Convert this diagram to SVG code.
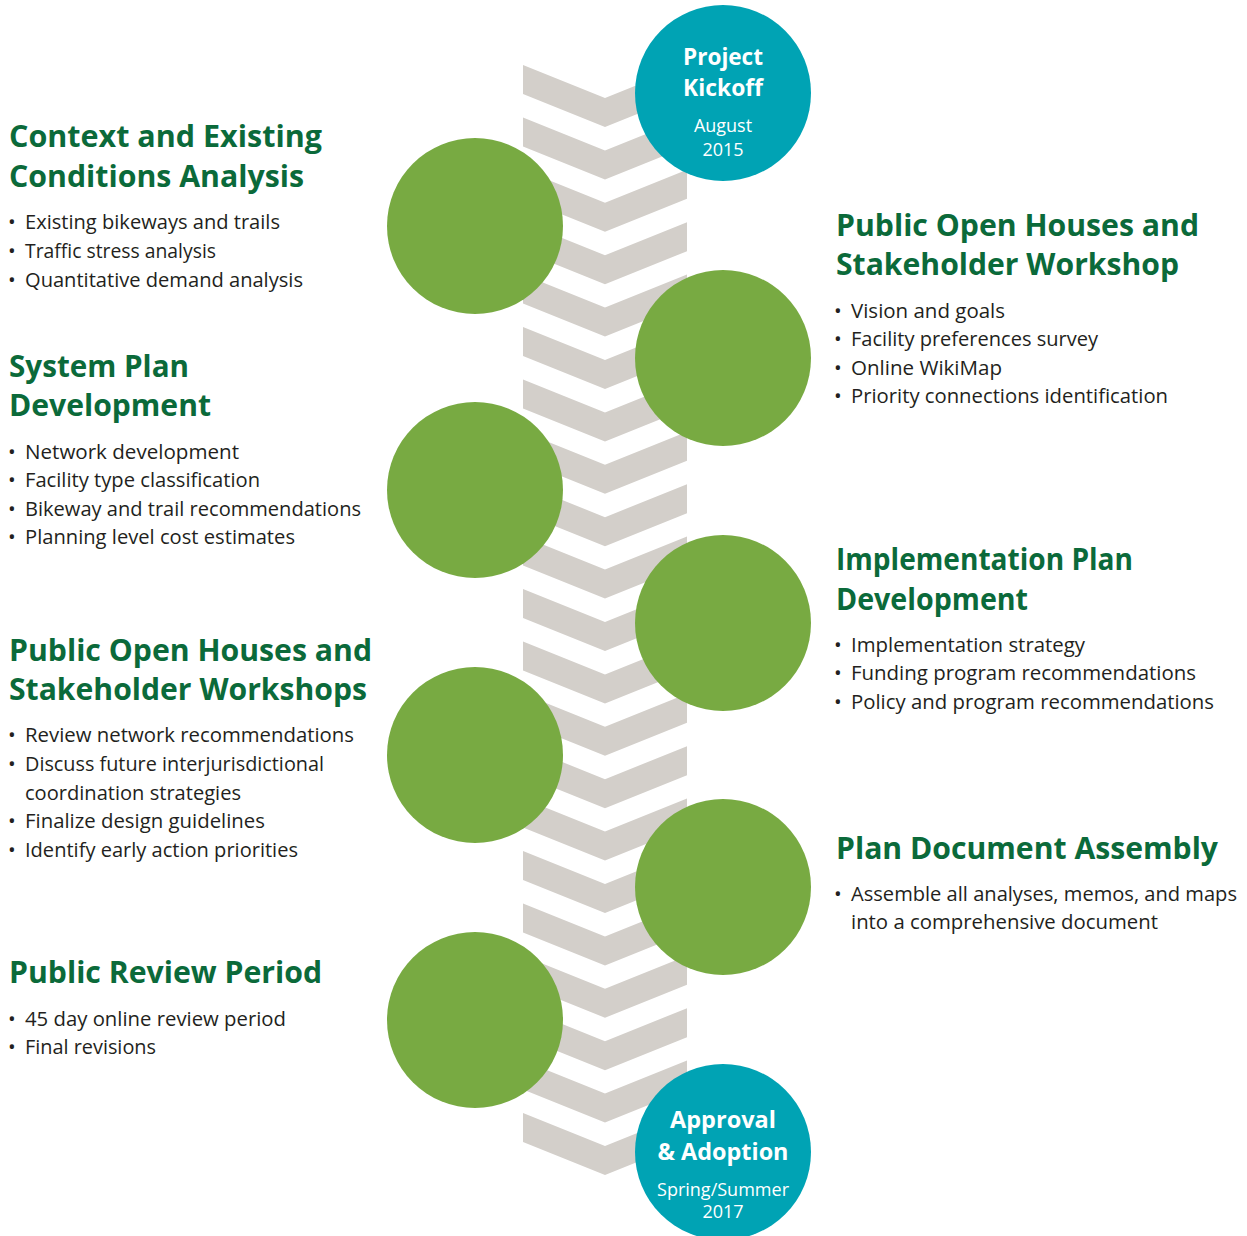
<svg xmlns="http://www.w3.org/2000/svg" xmlns:xlink="http://www.w3.org/1999/xlink" width="1247" height="1236" viewBox="0 0 1247 1236">
  <style>
    .step { fill: #78aa42; }
    .milestone { fill: #00a3b4; }
    .chev { fill: #d3cfca; }
    .head { font-family: "Open Sans", "Liberation Sans", sans-serif; font-weight: 700; font-size: 31px; fill: #0b6a3a; }
    .item { font-family: "Open Sans", "Liberation Sans", sans-serif; font-weight: 400; font-size: 20.5px; fill: #231f20; }
    .ms-title { font-family: "Open Sans", "Liberation Sans", sans-serif; font-weight: 700; font-size: 24px; fill: #ffffff; text-anchor: middle; }
    .ms-date { font-family: "Open Sans", "Liberation Sans", sans-serif; font-weight: 400; font-size: 18px; fill: #ffffff; text-anchor: middle; }
  </style>
  <defs>
    <!-- one chevron band of the spine, top-left corner at y=0 -->
    <path id="chevron" d="M523,0 L605,33 L687,0 L687,29 L605,62 L523,29 Z"/>
  </defs>
  <rect width="1247" height="1236" fill="#ffffff"/>

  <!-- central chevron spine linking the stages -->
  <g id="connectors" class="chev">
    <use xlink:href="#chevron" y="65"/>
    <use xlink:href="#chevron" y="117.4"/>
    <use xlink:href="#chevron" y="169.8"/>
    <use xlink:href="#chevron" y="222.2"/>
    <use xlink:href="#chevron" y="274.6"/>
    <use xlink:href="#chevron" y="327"/>
    <use xlink:href="#chevron" y="379.4"/>
    <use xlink:href="#chevron" y="431.8"/>
    <use xlink:href="#chevron" y="484.2"/>
    <use xlink:href="#chevron" y="536.6"/>
    <use xlink:href="#chevron" y="589"/>
    <use xlink:href="#chevron" y="641.4"/>
    <use xlink:href="#chevron" y="693.8"/>
    <use xlink:href="#chevron" y="746.2"/>
    <use xlink:href="#chevron" y="798.6"/>
    <use xlink:href="#chevron" y="851"/>
    <use xlink:href="#chevron" y="903.4"/>
    <use xlink:href="#chevron" y="955.8"/>
    <use xlink:href="#chevron" y="1008.2"/>
    <use xlink:href="#chevron" y="1060.6"/>
    <use xlink:href="#chevron" y="1113"/>
  </g>

  <!-- start milestone -->
  <g id="kickoff">
    <circle class="milestone" cx="723" cy="93" r="88"/>
    <text class="ms-title" x="723" y="65" textLength="80" lengthAdjust="spacingAndGlyphs">Project</text>
    <text class="ms-title" x="723" y="96" textLength="80" lengthAdjust="spacingAndGlyphs">Kickoff</text>
    <text class="ms-date" x="723" y="132">August</text>
    <text class="ms-date" x="723" y="156">2015</text>
  </g>

  <!-- left-hand stages -->
  <g id="context-analysis">
    <circle class="step" cx="475" cy="226" r="88"/>
    <text class="head" x="9" y="147" textLength="313" lengthAdjust="spacingAndGlyphs">Context and Existing</text>
    <text class="head" x="9" y="187" textLength="295" lengthAdjust="spacingAndGlyphs">Conditions Analysis</text>
    <text class="item" x="8" y="229">•</text>
    <text class="item" x="25" y="229" textLength="255" lengthAdjust="spacingAndGlyphs">Existing bikeways and trails</text>
    <text class="item" x="8" y="258">•</text>
    <text class="item" x="25" y="258" textLength="191" lengthAdjust="spacingAndGlyphs">Traffic stress analysis</text>
    <text class="item" x="8" y="287">•</text>
    <text class="item" x="25" y="287" textLength="278" lengthAdjust="spacingAndGlyphs">Quantitative demand analysis</text>
  </g>

  <g id="system-plan">
    <circle class="step" cx="475" cy="490" r="88"/>
    <text class="head" x="9" y="377" textLength="180" lengthAdjust="spacingAndGlyphs">System Plan</text>
    <text class="head" x="9" y="416" textLength="202" lengthAdjust="spacingAndGlyphs">Development</text>
    <text class="item" x="8" y="459">•</text>
    <text class="item" x="25" y="459" textLength="214" lengthAdjust="spacingAndGlyphs">Network development</text>
    <text class="item" x="8" y="487">•</text>
    <text class="item" x="25" y="487" textLength="235" lengthAdjust="spacingAndGlyphs">Facility type classification</text>
    <text class="item" x="8" y="516">•</text>
    <text class="item" x="25" y="516" textLength="336" lengthAdjust="spacingAndGlyphs">Bikeway and trail recommendations</text>
    <text class="item" x="8" y="544">•</text>
    <text class="item" x="25" y="544" textLength="270" lengthAdjust="spacingAndGlyphs">Planning level cost estimates</text>
  </g>

  <g id="workshops-2">
    <circle class="step" cx="475" cy="755" r="88"/>
    <text class="head" x="9" y="661" textLength="363" lengthAdjust="spacingAndGlyphs">Public Open Houses and</text>
    <text class="head" x="9" y="700" textLength="358" lengthAdjust="spacingAndGlyphs">Stakeholder Workshops</text>
    <text class="item" x="8" y="742">•</text>
    <text class="item" x="25" y="742" textLength="329" lengthAdjust="spacingAndGlyphs">Review network recommendations</text>
    <text class="item" x="8" y="771">•</text>
    <text class="item" x="25" y="771" textLength="299" lengthAdjust="spacingAndGlyphs">Discuss future interjurisdictional</text>
    <text class="item" x="25" y="800" textLength="216" lengthAdjust="spacingAndGlyphs">coordination strategies</text>
    <text class="item" x="8" y="828">•</text>
    <text class="item" x="25" y="828" textLength="240" lengthAdjust="spacingAndGlyphs">Finalize design guidelines</text>
    <text class="item" x="8" y="857">•</text>
    <text class="item" x="25" y="857" textLength="273" lengthAdjust="spacingAndGlyphs">Identify early action priorities</text>
  </g>

  <g id="public-review">
    <circle class="step" cx="475" cy="1020" r="88"/>
    <text class="head" x="9" y="983" textLength="313" lengthAdjust="spacingAndGlyphs">Public Review Period</text>
    <text class="item" x="8" y="1026">•</text>
    <text class="item" x="25" y="1026" textLength="261" lengthAdjust="spacingAndGlyphs">45 day online review period</text>
    <text class="item" x="8" y="1054">•</text>
    <text class="item" x="25" y="1054" textLength="131" lengthAdjust="spacingAndGlyphs">Final revisions</text>
  </g>

  <!-- right-hand stages -->
  <g id="workshop-1">
    <circle class="step" cx="723" cy="358" r="88"/>
    <text class="head" x="836" y="236" textLength="363" lengthAdjust="spacingAndGlyphs">Public Open Houses and</text>
    <text class="head" x="836" y="275" textLength="343" lengthAdjust="spacingAndGlyphs">Stakeholder Workshop</text>
    <text class="item" x="834" y="318">•</text>
    <text class="item" x="851" y="318" textLength="154" lengthAdjust="spacingAndGlyphs">Vision and goals</text>
    <text class="item" x="834" y="346">•</text>
    <text class="item" x="851" y="346" textLength="247" lengthAdjust="spacingAndGlyphs">Facility preferences survey</text>
    <text class="item" x="834" y="375">•</text>
    <text class="item" x="851" y="375" textLength="151" lengthAdjust="spacingAndGlyphs">Online WikiMap</text>
    <text class="item" x="834" y="403">•</text>
    <text class="item" x="851" y="403" textLength="317" lengthAdjust="spacingAndGlyphs">Priority connections identification</text>
  </g>

  <g id="implementation-plan">
    <circle class="step" cx="723" cy="623" r="88"/>
    <text class="head" x="836" y="570" textLength="297" lengthAdjust="spacingAndGlyphs">Implementation Plan</text>
    <text class="head" x="836" y="610" textLength="192" lengthAdjust="spacingAndGlyphs">Development</text>
    <text class="item" x="834" y="652">•</text>
    <text class="item" x="851" y="652" textLength="234" lengthAdjust="spacingAndGlyphs">Implementation strategy</text>
    <text class="item" x="834" y="680">•</text>
    <text class="item" x="851" y="680" textLength="345" lengthAdjust="spacingAndGlyphs">Funding program recommendations</text>
    <text class="item" x="834" y="709">•</text>
    <text class="item" x="851" y="709" textLength="363" lengthAdjust="spacingAndGlyphs">Policy and program recommendations</text>
  </g>

  <g id="document-assembly">
    <circle class="step" cx="723" cy="887" r="88"/>
    <text class="head" x="836" y="859" textLength="382" lengthAdjust="spacingAndGlyphs">Plan Document Assembly</text>
    <text class="item" x="834" y="901">•</text>
    <text class="item" x="851" y="901" textLength="386" lengthAdjust="spacingAndGlyphs">Assemble all analyses, memos, and maps</text>
    <text class="item" x="851" y="929" textLength="307" lengthAdjust="spacingAndGlyphs">into a comprehensive document</text>
  </g>

  <!-- end milestone -->
  <g id="adoption">
    <circle class="milestone" cx="723" cy="1152" r="88"/>
    <text class="ms-title" x="723" y="1128" textLength="106" lengthAdjust="spacingAndGlyphs">Approval</text>
    <text class="ms-title" x="723" y="1160" textLength="131" lengthAdjust="spacingAndGlyphs">&amp; Adoption</text>
    <text class="ms-date" x="723" y="1196" textLength="132" lengthAdjust="spacingAndGlyphs">Spring/Summer</text>
    <text class="ms-date" x="723" y="1218">2017</text>
  </g>
</svg>
